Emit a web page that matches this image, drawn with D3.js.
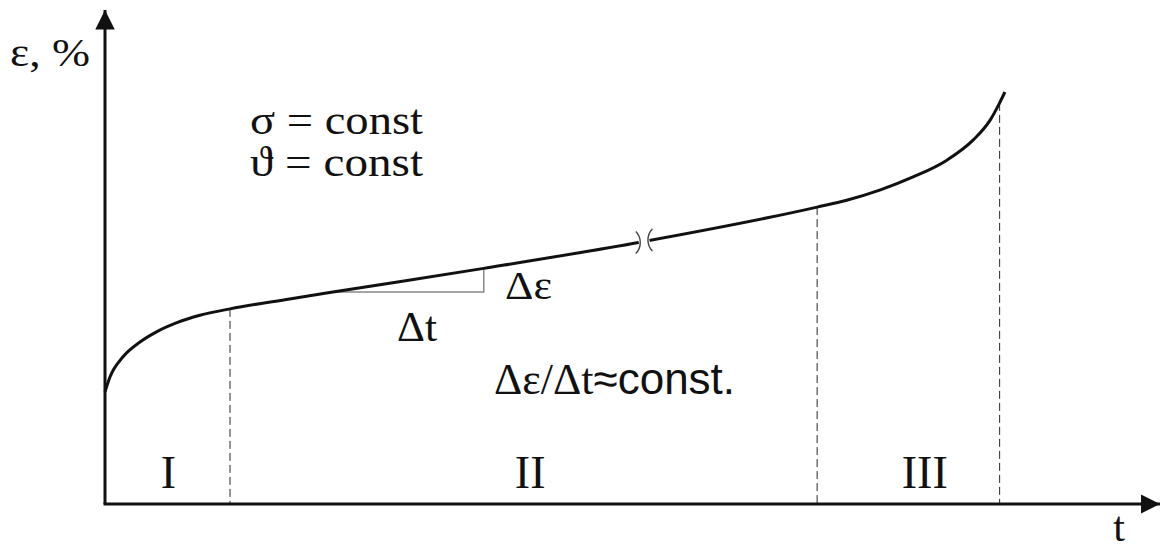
<!DOCTYPE html>
<html lang="en">
<head>
<meta charset="utf-8">
<title>Creep curve</title>
<script src="https://cdn.jsdelivr.net/npm/d3@7"></script>
<style>
  body { margin: 0; background: #fff; }
  text { fill: #111; }
  .serif { font-family: "Liberation Serif", "Times New Roman", Times, serif; }
  .sans { font-family: "Liberation Sans", Arial, Helvetica, sans-serif; }
</style>
</head>
<body>
<script>
// creep curve: strain vs time (arbitrary units 0..100)
var timeVals   = [0, 0.47, 1.71, 3.32, 4.93, 6.82, 9.0, 11.85, 17.5, 21.6, 35.9, 50.7, 67.5, 70.3, 73.5, 76.6, 79.8, 82.3, 83.9, 84.8, 85.3];
var strainVals = [22.7, 25.7, 29.8, 32.8, 34.9, 36.7, 38.2, 39.5, 41.5, 42.9, 47.7, 53.0, 60.1, 61.5, 63.6, 66.2, 69.6, 73.7, 77.7, 81.2, 83.4];

// stage boundaries (dashed) and where they meet the curve
var stageBounds = [11.85, 67.5, 84.8];
var stageTops   = [39.5, 60.1, 81.2];
var stageNames  = ["I", "II", "III"];
var stageLabelT = [6.0, 40.3, 77.7];

// slope triangle and axis break
var triT = [21.6, 35.9];
var triE = [42.9, 47.7];
var breakT = [50.5, 51.7];

var width = 1163, height = 549;

var svg = d3.select("body").append("svg")
    .attr("width", width)
    .attr("height", height);

var x = d3.scaleLinear().domain([0, 100]).range([105, 1160]);
var y = d3.scaleLinear().domain([0, 100]).range([504, 10]);

var defs = svg.append("defs");
defs.append("marker")
    .attr("id", "arrow")
    .attr("viewBox", "0 0 10 10")
    .attr("refX", 10).attr("refY", 5)
    .attr("markerWidth", 6.5).attr("markerHeight", 6.5)
    .attr("markerUnits", "strokeWidth")
    .attr("orient", "auto")
  .append("path")
    .attr("d", "M0,0 L10,5 L0,10 Z")
    .attr("fill", "#111");

// dashed stage lines
svg.selectAll("line.stage")
    .data(stageBounds)
  .enter().append("line")
    .attr("class", "stage")
    .attr("x1", function(d) { return x(d); })
    .attr("x2", function(d) { return x(d); })
    .attr("y1", function(d, i) { return y(stageTops[i]); })
    .attr("y2", y(0))
    .attr("stroke", "#2a2a2a")
    .attr("stroke-width", 1)
    .attr("stroke-dasharray", "8,4");

// slope triangle
svg.append("path")
    .attr("d", "M" + x(triT[0]) + "," + y(triE[0]) + "H" + x(triT[1]) + "V" + y(triE[1]))
    .attr("fill", "none")
    .attr("stroke", "#888")
    .attr("stroke-width", 1.5);

// the curve
var pts = timeVals.map(function(t, i) { return [t, strainVals[i]]; });
var line = d3.line()
    .x(function(d) { return x(d[0]); })
    .y(function(d) { return y(d[1]); })
    .curve(d3.curveMonotoneX);

svg.append("path")
    .datum(pts)
    .attr("d", line)
    .attr("fill", "none")
    .attr("stroke", "#111")
    .attr("stroke-width", 3);

// break in the curve
var breakE = breakT.map(function(t) { return 53.0 + (60.1 - 53.0) * (t - 50.7) / (67.5 - 50.7); });
svg.append("line")
    .attr("x1", x(breakT[0]) + 1).attr("x2", x(breakT[1]) - 1)
    .attr("y1", y(breakE[0])).attr("y2", y(breakE[1]))
    .attr("stroke", "#fff")
    .attr("stroke-width", 7);
breakT.forEach(function(t, i) {
    var cx = x(t), cy = y(breakE[i]);
    var bend = i === 0 ? 1 : -1;
    svg.append("path")
        .attr("d", "M" + (cx - bend * 2) + "," + (cy - 11) +
                   " C" + (cx + bend * 4) + "," + (cy - 5) + " " + (cx + bend * 4) + "," + (cy + 5) +
                   " " + (cx - bend * 2) + "," + (cy + 11))
        .attr("fill", "none")
        .attr("stroke", "#444")
        .attr("stroke-width", 1.4);
});

// axes
svg.append("line")
    .attr("x1", x(0)).attr("y1", y(0))
    .attr("x2", x(0)).attr("y2", y(100))
    .attr("stroke", "#111").attr("stroke-width", 3)
    .attr("marker-end", "url(#arrow)");
svg.append("line")
    .attr("x1", x(0) - 1.5).attr("y1", y(0))
    .attr("x2", x(100)).attr("y2", y(0))
    .attr("stroke", "#111").attr("stroke-width", 3)
    .attr("marker-end", "url(#arrow)");

function label(txt, px, py, size, cls, anchor, len) {
    var t = svg.append("text")
        .attr("class", cls)
        .attr("x", px).attr("y", py)
        .style("font-size", size + "px")
        .attr("text-anchor", anchor || "start")
        .text(txt);
    if (len) t.attr("textLength", len).attr("lengthAdjust", "spacingAndGlyphs");
    return t;
}

label("ε, %", 10, 66, 40, "serif", "start", 80);
label("t", 1119, 541, 42, "serif", "middle");
label("σ = const", 250, 134, 42, "serif", "start", 173);
label("ϑ = const", 250, 176, 42, "serif", "start", 173);
label("Δε", 505, 299, 40, "serif", "start", 47);
label("Δt", 397, 341, 42, "serif", "start", 40);

var rate = svg.append("text")
    .attr("x", 494).attr("y", 394)
    .style("font-size", "44px");
rate.append("tspan").attr("class", "serif").text("Δε/Δt");
rate.append("tspan").attr("class", "sans").text("≈const.");

svg.selectAll("text.stage")
    .data(stageNames)
  .enter().append("text")
    .attr("class", "stage serif")
    .attr("x", function(d, i) { return x(stageLabelT[i]); })
    .attr("y", 488)
    .attr("text-anchor", "middle")
    .style("font-size", "46px")
    .text(function(d) { return d; });
</script>
</body>
</html>
